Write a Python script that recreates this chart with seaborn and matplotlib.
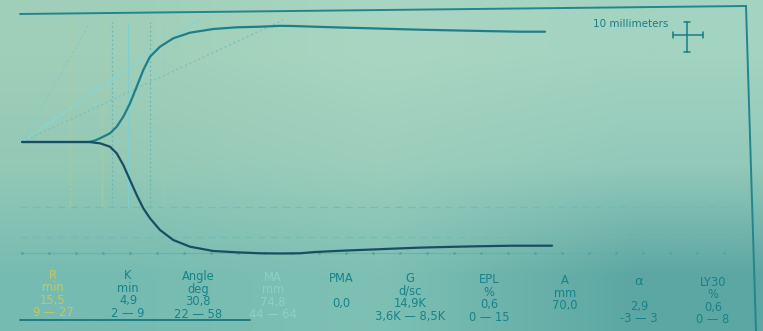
import numpy as np
import matplotlib
matplotlib.use("Agg")
import matplotlib.pyplot as plt
from matplotlib.colors import to_rgb
import seaborn as sns

# ---- tracing: time in minutes, branch amplitude in mm ----
upper_t = [0.0, 15.5, 16.9, 18.06, 20.37, 21.92, 23.45, 25.0, 26.55, 28.08, 29.63,
           31.94, 35.02, 38.89, 44.28, 49.70, 55.09, 59.72, 62.73, 69.68, 75.23,
           80.56, 86.34, 92.13, 98.61, 106.48, 115.28, 121.06]
upper_amp = [0.0, 0.0, 0.47, 1.16, 2.72, 4.78, 7.91, 12.09, 17.28, 22.5, 26.66,
             29.78, 32.41, 34.16, 35.31, 35.84, 36.03, 36.3, 36.25, 35.94, 35.72,
             35.53, 35.31, 35.09, 34.91, 34.69, 34.47, 34.47]
lower_t = [0.0, 15.5, 18.06, 20.37, 21.92, 23.45, 25.0, 26.55, 28.08, 29.63, 31.94,
           35.02, 38.89, 44.28, 49.70, 55.09, 59.72, 64.35, 67.82, 74.07, 79.86,
           85.65, 91.67, 97.92, 105.32, 113.43, 122.69]
lower_amp = [0.0, 0.0, -0.41, -1.47, -3.53, -7.19, -11.88, -16.56, -20.72, -23.84,
             -27.5, -30.63, -32.72, -34.06, -34.47, -34.78, -34.84, -34.78, -34.38,
             -33.97, -33.66, -33.34, -33.03, -32.81, -32.59, -32.41, -32.41]

# guide lines drawn from the origin of the tracing
tangent_t, tangent_amp = [0.0, 40.8], [0.0, 38.1]
steep_t, steep_amp = [0.0, 15.7], [0.0, 37.2]
shallow_t, shallow_amp = [0.0, 60.4], [0.0, 38.1]

# vertical time markers (min)
marker_t = [11.1, 18.45, 20.75, 24.6, 29.6, 32.9]
marker_top, marker_bottom = 37.5, -20.3
grid_amp = [-20.3, -29.7]
timeline_amp = -34.7
tick_step = 6.25

# ---- results table ----
param_names = ["R", "K", "Angle", "MA", "PMA", "G", "EPL", "A", "\u03b1", "LY30"]
param_units = ["min", "min", "deg", "mm", "", "d/sc", "%", "mm", "", "%"]
param_values = ["15,5", "4,9", "30,8", "74,8", "0,0", "14,9K", "0,6", "70,0", "2,9", "0,6"]
param_ranges = ["9 \u2014 27", "2 \u2014 9", "22 \u2014 58", "44 \u2014 64", "",
                "3,6K \u2014 8,5K", "0 \u2014 15", "", "-3 \u2014 3", "0 \u2014 8"]
col_x = [53, 128, 198, 273, 341, 410, 489, 565, 639, 713]
TEAL_TXT = "#16838a"
col_colors = ["#c2c864", TEAL_TXT, TEAL_TXT, "#8fcfc8", TEAL_TXT, TEAL_TXT,
              TEAL_TXT, TEAL_TXT, TEAL_TXT, TEAL_TXT]

sns.set_style("white")
plt.rcParams["font.family"] = ["DejaVu Sans"]

W, H = 763, 331
fig = plt.figure(figsize=(W / 100, H / 100), dpi=100)

# background sheet with uneven lighting
bg = fig.add_axes([0, 0, 1, 1], zorder=0)
corner = np.array([
    [to_rgb("#9fcfb9"), to_rgb("#a9d6c2"), to_rgb("#a3d3c1")],
    [to_rgb("#94c9b6"), to_rgb("#9ccebc"), to_rgb("#92c9ba")],
    [to_rgb("#76bbb1"), to_rgb("#7ec0b4"), to_rgb("#5ca7a3")],
])
bg.imshow(corner, extent=(0, W, H, 0), interpolation="bilinear", aspect="auto", zorder=0)
bg.set_xlim(0, W)
bg.set_ylim(H, 0)
bg.axis("off")

FRAME = "#23868c"
# paper frame
bg.plot([20, 746], [14, 6], color=FRAME, lw=1.4)
bg.plot([746, 756], [6, H], color=FRAME, lw=1.4)
bg.plot([20, 250], [320, 320], color="#1f7b82", lw=1.4)

# 10 mm scale cross
bg.text(593, 24, "10 millimeters", fontsize=7.5, color="#1b7d85", va="center", ha="left")
bg.plot([687, 687], [22, 52], color="#1b7d85", lw=1.1)
bg.plot([684, 690], [22, 22], color="#1b7d85", lw=1.1)
bg.plot([684, 690], [52, 52], color="#1b7d85", lw=1.1)
bg.plot([673, 703], [35, 35], color="#1b7d85", lw=1.1)
bg.plot([673, 673], [32, 38], color="#1b7d85", lw=1.1)
bg.plot([703, 703], [32, 38], color="#1b7d85", lw=1.1)

# results table (rows drift slightly downward to the right)
row_y = [275, 287.5, 300, 312.5]
for name, unit, val, rng, x, c in zip(param_names, param_units, param_values,
                                       param_ranges, col_x, col_colors):
    dy = 0.011 * (x - 50)
    for txt, y in zip([name, unit, val, rng], row_y):
        if txt:
            fs = 9.5 if txt == "\u03b1" else 8.3
            bg.text(x, y + dy, txt, fontsize=fs, color=c, ha="center", va="center")

# ---- tracing axes: minutes vs mm ----
ax = fig.add_axes([0, 0, 1, 1], zorder=1)
ax.patch.set_alpha(0)
px_per_min, px_per_mm = 4.32, 3.2
ax.set_xlim(-22 / px_per_min, (W - 22) / px_per_min)
ax.set_ylim(-(H - 142) / px_per_mm, 142 / px_per_mm)
ax.axis("off")

# dashed reference grid and timeline
for g in grid_amp:
    ax.axhline(g, xmin=20 / W, xmax=745 / W, color="#6fbab6", lw=0.9, ls=(0, (6, 4)), alpha=0.8)
ax.axhline(timeline_amp, xmin=20 / W, xmax=745 / W, color="#5fb1ad", lw=0.8, alpha=0.8)
ticks = np.arange(0, 168, tick_step)
ax.scatter(ticks, np.full(len(ticks), timeline_amp), s=4, color="#4ea5a2", lw=0, zorder=2)

# time markers
marker_styles = [((0, (1.5, 2)), "#b7cf8c"), ("-", "#a9cf9f"), ((0, (1.5, 2)), "#6db7b3"),
                 ("-", "#7fcfcf"), ((0, (1.5, 2)), "#6db7b3"), ((0, (1.5, 2)), "#9ccdb8")]
marker_alpha = [0.8, 0.6, 1.0, 1.0, 1.0, 0.8]
for t, (ls, c), a in zip(marker_t, marker_styles, marker_alpha):
    ax.vlines(t, marker_bottom, marker_top, colors=c, linestyles=ls, lw=0.9, alpha=a)

# guide lines
sns.lineplot(x=tangent_t, y=tangent_amp, ax=ax, color="#86d6d4", lw=1.0)
sns.lineplot(x=steep_t, y=steep_amp, ax=ax, color="#86cbc6", lw=1.0, ls=(0, (1.5, 2)))
sns.lineplot(x=shallow_t, y=shallow_amp, ax=ax, color="#79c3be", lw=1.0, ls=(0, (1.5, 2)))

# tracing branches
sns.lineplot(x=upper_t, y=upper_amp, ax=ax, color="#1f7f88", lw=1.6)
sns.lineplot(x=lower_t, y=lower_amp, ax=ax, color="#1a4d64", lw=1.6)

fig.savefig("out.png", dpi=100)
